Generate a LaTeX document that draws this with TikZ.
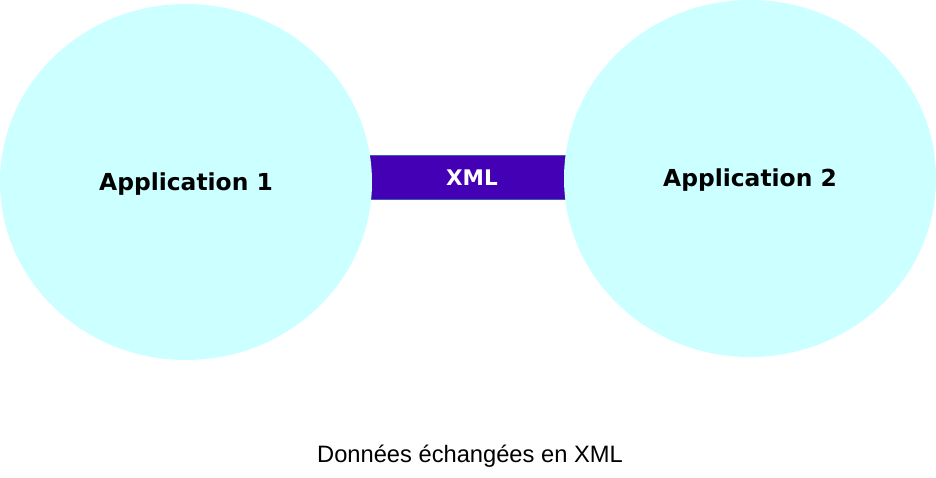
\documentclass[tikz,border=0pt]{standalone}
\usepackage{fontspec}
\setmainfont{Liberation Sans}
\newfontfamily\appfont{DejaVu Sans}
\usetikzlibrary{shapes.geometric,backgrounds}
\definecolor{appcyan}{HTML}{CCFFFF}
\definecolor{xmlviolet}{HTML}{4400B4}
\definecolor{xmlrim}{HTML}{3A5FB0}
\begin{document}
\begin{tikzpicture}
[
    x=1pt, y=-1pt,
    app/.style={ellipse, fill=appcyan, minimum width=372pt, minimum height=356pt, inner sep=0pt,
        font=\appfont\bfseries\fontsize{23.4}{28}\selectfont, text height=17pt, text depth=0pt},
    xmlbar/.style={draw=xmlrim, line width=1pt, double=xmlviolet, double distance=43pt},
]
\useasboundingbox (0,0) rectangle (936,478);
\node[app] (app1) at (186,182) {Application 1};
\node[app, minimum height=357pt] (app2) at (750,178.5) {Application 2};
\coordinate (barmid) at (468,177.5);
\begin{scope}[on background layer]
\draw[xmlbar] (app1.center |- barmid) -- (app2.center |- barmid)
    node[pos=.507, text=white, font=\appfont\bfseries\fontsize{21.5}{26}\selectfont,
        text height=16pt, text depth=0pt] (xml) {XML};
\end{scope}
\node[font=\fontsize{23.7}{28}\selectfont, anchor=base] (caption) at (470,462) {Données échangées en XML};
\end{tikzpicture}
\end{document}
